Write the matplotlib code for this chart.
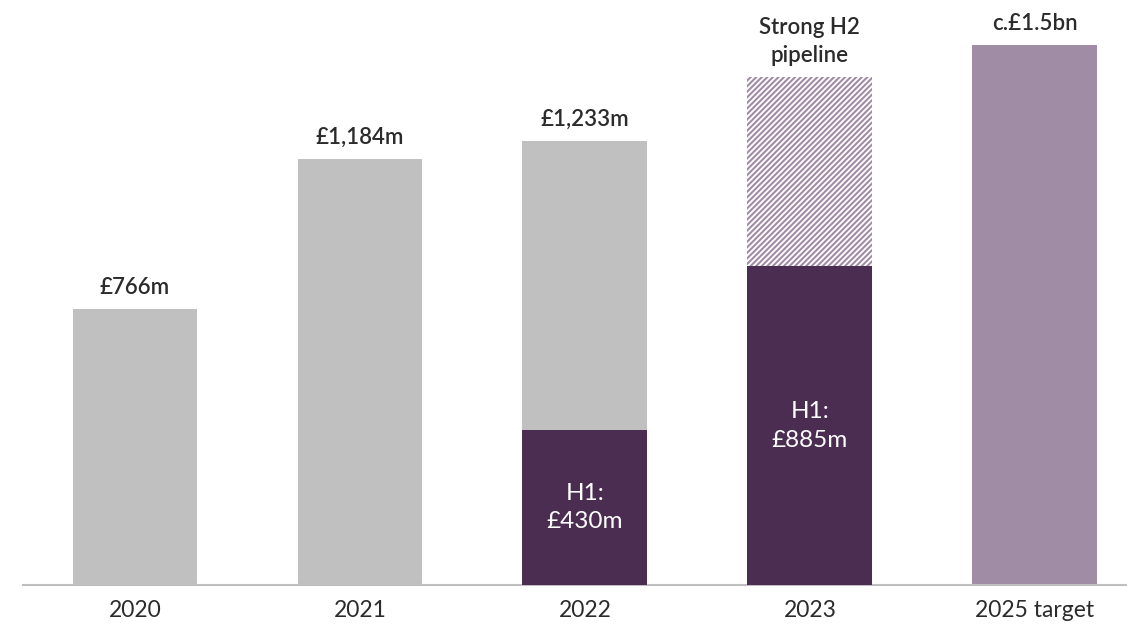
import matplotlib
matplotlib.use("Agg")
import matplotlib.pyplot as plt

categories = ["2020", "2021", "2022", "2023", "2025 target"]
full_year = [766, 1184, 1233, None, 1500]
full_labels = ["£766m", "£1,184m", "£1,233m", "Strong H2\npipeline", "c.£1.5bn"]
h1_values = [None, None, 430, 885, None]
h1_labels = [None, None, "H1:\n£430m", "H1:\n£885m", None]
pipeline_total = 1410  # 2023 top of hatched bar (estimate)

GREY = "#c0c0c0"
DARK = "#4b2d52"
LIGHT = "#a08ca5"
TEXT = "#2b2b2b"

plt.rcParams['font.family'] = ['Lato', 'DejaVu Sans']
plt.rcParams['hatch.linewidth'] = 1.5
plt.rcParams['hatch.color'] = LIGHT

fig = plt.figure(figsize=(11.27, 6.26), dpi=100)
ax = fig.add_axes([23/1127, 41/626, 1 - 23/1127, 585/626])

x = list(range(len(categories)))
w = 0.555

for i in x:
    if i in (0, 1, 2):
        ax.bar(i, full_year[i], width=w, color=GREY, zorder=2)
    if i == 4:
        ax.bar(i, full_year[i], width=w, color=LIGHT, zorder=2)
    if h1_values[i] is not None:
        ax.bar(i, h1_values[i], width=w, color=DARK, zorder=3)
        ax.text(i, h1_values[i] / 2, h1_labels[i], ha='center', va='center',
                color='white', fontsize=17.5, fontweight='normal',
                linespacing=1.45, zorder=4)
    if i == 3:
        ax.bar(i, pipeline_total - h1_values[i], bottom=h1_values[i], width=w,
               color='white', edgecolor=LIGHT, hatch='//////', linewidth=0, zorder=2)
        top = pipeline_total
    else:
        top = full_year[i]
    ax.annotate(full_labels[i], (i, top), xytext=(0, 8), textcoords='offset points',
                ha='center', va='bottom', fontsize=16, fontweight='semibold',
                color=TEXT, linespacing=1.45)

ax.set_xlim(-0.498, 4.41)
ax.set_ylim(0, 1625)
ax.set_xticks(x)
ax.set_xticklabels(categories, fontsize=16.5, color=TEXT)
ax.tick_params(axis='x', length=0, pad=11)
ax.set_yticks([])
for s in ('top', 'right', 'left'):
    ax.spines[s].set_visible(False)
ax.spines['bottom'].set_color('#bfbfbf')
ax.spines['bottom'].set_linewidth(1.5)

fig.savefig("out.png", dpi=100)
